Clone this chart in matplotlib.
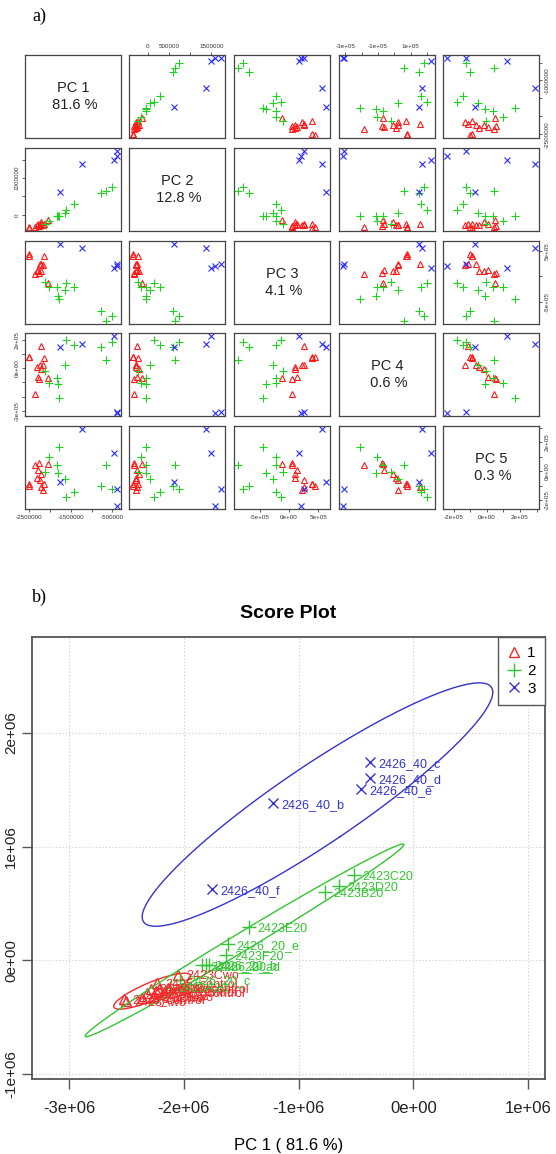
import numpy as np
import matplotlib.pyplot as plt
from matplotlib.lines import Line2D

plt.rcParams['font.family'] = ['Liberation Sans', 'DejaVu Sans']

# ---- data (PC scores) ----
samples = ["2426_control", "2423Awo", "2423Bwo", "2423Dwo", "2423Ewo", "2424_control",
           "2425_control", "2423Fwo", "2427_control", "2423Cwo", "2428_control", "2424Awo",
           "2423A20", "2426_20_c", "2426_20_a", "2426_20_b", "2426_20_d", "2426_20_e",
           "2423F20", "2423E20", "2423B20", "2423D20", "2423C20",
           "2426_40_f", "2426_40_b", "2426_40_e", "2426_40_c", "2426_40_d"]
group = [1] * 12 + [2] * 11 + [3] * 5
pc1 = [-2.52e6, -2.50e6, -2.36e6, -2.29e6, -2.27e6, -2.24e6, -2.23e6, -2.22e6, -2.17e6, -2.05e6, -2.14e6, -2.32e6,
       -2.12e6, -2.03e6, -1.84e6, -1.81e6, -1.78e6, -1.613e6, -1.63e6, -1.43e6, -0.767e6, -0.645e6, -0.514e6,
       -1.752e6, -1.22e6, -0.453e6, -0.375e6, -0.375e6]
pc2 = [-0.34e6, -0.36e6, -0.33e6, -0.25e6, -0.32e6, -0.27e6, -0.20e6, -0.25e6, -0.28e6, -0.13e6, -0.24e6, -0.29e6,
       -0.24e6, -0.17e6, -0.045e6, -0.04e6, -0.045e6, 0.141e6, 0.044e6, 0.29e6, 0.598e6, 0.65e6, 0.748e6,
       0.624e6, 1.381e6, 1.504e6, 1.741e6, 1.60e6]
pc3 = [0.44e6, 0.40e6, 0.056e6, 0.13e6, 0.06e6, 0.25e6, 0.10e6, 0.25e6, 0.22e6, -0.118e6, 0.40e6, 0.10e6,
       -0.10e6, -0.215e6, -0.215e6, -0.39e6, -0.447e6, -0.137e6, -0.273e6, -0.215e6, -0.679e6, -0.873e6, -0.776e6,
       0.637e6, 0.560e6, 0.173e6, 0.25e6, 0.21e6]
pc4 = [0.80e5, 0.78e5, -1.82e5, -0.64e5, -0.76e5, 0.23e5, -0.05e5, 1.60e5, 0.25e5, -0.69e5, 0.75e5, 0.10e5,
       -0.19e5, -1.04e5, -0.66e5, -1.11e5, -2.10e5, 2.0e5, 0.23e5, 1.64e5, 1.50e5, 0.58e5, 1.85e5,
       1.50e5, 1.71e5, 2.28e5, -3.09e5, -3.16e5]
pc5 = [-1.0e5, -0.9e5, 0.45e5, 0.08e5, 0.55e5, -0.64e5, -0.17e5, -1.10e5, -1.30e5, 0.49e5, -0.89e5, -0.45e5,
       -0.05e5, 1.0e5, 0.40e5, -0.10e5, 1.70e5, -1.8e5, -0.52e5, -1.43e5, -1.0e5, 0.45e5, -1.25e5,
       -0.73e5, 2.93e5, 1.24e5, -1.22e5, -2.42e5]
variance = [81.6, 12.8, 4.1, 0.6, 0.3]

pcs = [np.array(p) for p in (pc1, pc2, pc3, pc4, pc5)]
group = np.array(group)
styles_pairs = {1: ('^', '#ff1a1a'), 2: ('+', '#22d022'), 3: ('x', '#2a2aff')}
styles_score = {1: ('^', '#f22a2a'), 2: ('+', '#33c433'), 3: ('x', '#3434cc')}

# tick values and labels kept for each pairs axis side
ticks = [[-2.5e6, -2e6, -1.5e6, -1e6, -0.5e6],
         [0, 5e5, 1e6, 1.5e6],
         [-5e5, 0, 5e5],
         [-3e5, -2e5, -1e5, 0, 1e5, 2e5],
         [-2e5, -1e5, 0, 1e5, 2e5, 3e5]]
xlabs = [['-2500000', '', '-1500000', '', '-500000'],
         ['0', '500000', '', '1500000'],
         ['-5e+05', '0e+00', '5e+05'],
         ['-3e+05', '', '-1e+05', '', '1e+05', ''],
         ['-2e+05', '', '0e+00', '', '2e+05', '']]
ylabs = [['-2500000', '', '', '-1000000', ''],
         ['0', '', '1000000', ''],
         ['-5e+05', '', '5e+05'],
         ['-3e+05', '', '', '0e+00', '', '2e+05'],
         ['-2e+05', '', '0e+00', '', '2e+05', '']]

W, H = 556, 1154
fig = plt.figure(figsize=(W / 100, H / 100), dpi=100)


def px_axes(left, top, w, h):
    return fig.add_axes([left / W, 1 - (top + h) / H, w / W, h / H])


lims = []
for p in pcs:
    r = p.max() - p.min()
    lims.append((p.min() - 0.04 * r, p.max() + 0.04 * r))

col_left = [25, 129, 234, 339, 443]
row_top = [55, 148, 241, 333, 426]
for i in range(5):
    for j in range(5):
        ax = px_axes(col_left[j], row_top[i], 96, 83)
        ax.set_xlim(lims[j])
        ax.set_ylim(lims[i])
        for s in ax.spines.values():
            s.set_color('#444444')
            s.set_linewidth(0.9)
        if i == j:
            ax.text(0.5, 0.5, 'PC %d\n %.1f %%' % (i + 1, variance[i]), transform=ax.transAxes,
                    ha='center', va='center', fontsize=10.5, linespacing=1.3, color='#222222')
        else:
            for g, (m, c) in styles_pairs.items():
                sel = group == g
                ax.plot(pcs[j][sel], pcs[i][sel], ls='none', marker=m, mfc='none', mec=c,
                        ms=4.2 if m != '+' else 5.5, mew=0.8)
        ax.set_xticks([])
        ax.set_yticks([])
        tp = dict(labelsize=4.5, length=2.5, width=0.6, color='#444444', labelcolor='#333333', pad=1.5)
        if i == 0 and j % 2 == 1:
            ax.set_xticks(ticks[j], xlabs[j])
            ax.tick_params(axis='x', top=True, bottom=False, labeltop=True, labelbottom=False, **tp)
        if i == 4 and j % 2 == 0:
            ax.set_xticks(ticks[j], xlabs[j])
            ax.tick_params(axis='x', **tp)
        if j == 0 and i % 2 == 1:
            ax.set_yticks(ticks[i], ylabs[i], rotation=90, va='center')
            ax.tick_params(axis='y', **tp)
        if j == 4 and i % 2 == 0:
            ax.set_yticks(ticks[i], ylabs[i], rotation=90, va='center')
            ax.tick_params(axis='y', left=False, right=True, labelleft=False, labelright=True, **tp)

fig.text(32 / W, 1 - 16 / H, 'a)', family=['Liberation Serif'], fontsize=13, va='center')
fig.text(32 / W, 1 - 597 / H, 'b)', family=['Liberation Serif'], fontsize=13, va='center')

# ---- score plot ----
ax = px_axes(32, 637, 513, 442)


def conf_ellipse(x, y, chi2=5.991, n=200):
    cov = np.cov(x, y)
    vals, vecs = np.linalg.eigh(cov)
    t = np.linspace(0, 2 * np.pi, n)
    circ = np.vstack([np.cos(t), np.sin(t)])
    pts = vecs @ (np.sqrt(vals * chi2)[:, None] * circ)
    return pts[0] + x.mean(), pts[1] + y.mean()


for g, (m, c) in styles_score.items():
    sel = group == g
    ex, ey = conf_ellipse(pcs[0][sel], pcs[1][sel])
    ax.plot(ex, ey, color=c, lw=1.0)
    ax.plot(pcs[0][sel], pcs[1][sel], ls='none', marker=m, mfc='none', mec=c,
            ms=7 if m != '+' else 10, mew=1.0)
    for k in np.where(sel)[0]:
        ax.annotate(samples[k], (pcs[0][k], pcs[1][k]), xytext=(6, -1), textcoords='offset points',
                    va='center', ha='left', fontsize=9, color=c)

ax.set_xlim(-3.323e6, 1.148e6)
ax.set_ylim(-1.044e6, 2.844e6)
xt = [-3e6, -2e6, -1e6, 0, 1e6]
yt = [-1e6, 0, 1e6, 2e6]
ax.set_xticks(xt, ['-3e+06', '-2e+06', '-1e+06', '0e+00', '1e+06'])
ax.set_yticks(yt, ['-1e+06', '0e+00', '1e+06', '2e+06'], rotation=90, va='center')
ax.tick_params(length=7, width=1, color='#555555', labelcolor='#222222')
ax.tick_params(axis='x', labelsize=12, pad=9)
ax.tick_params(axis='y', labelsize=11, pad=3)
ax.grid(True, ls=(0, (1, 2)), color='#cccccc', lw=0.8)
for s in ax.spines.values():
    s.set_color('#555555')
    s.set_linewidth(1.3)
ax.set_title('Score Plot', fontsize=14, fontweight='bold', pad=14)
ax.set_xlabel('PC 1 ( 81.6 %)', fontsize=12, labelpad=16)

handles = [Line2D([], [], ls='none', marker=m, mfc='none', mec=c, ms=7 if m != '+' else 10, mew=1.0)
           for m, c in styles_score.values()]
leg = ax.legend(handles, ['1', '2', '3'], loc='upper right', borderaxespad=0, fancybox=False,
                framealpha=1, edgecolor='#555555', fontsize=11, handlelength=0.8, handletextpad=0.5,
                labelspacing=0.25, borderpad=0.6)
leg.get_frame().set_linewidth(1.0)

fig.savefig('out.png', dpi=100)
